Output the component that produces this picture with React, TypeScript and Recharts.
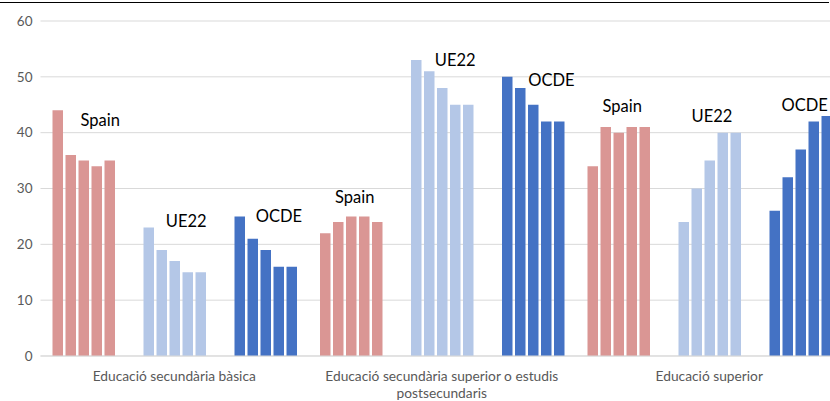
import { ComposedChart, CartesianGrid, XAxis, YAxis, Bar, Line, LabelList } from "recharts";

// three education levels, each with Spain / UE22 / OCDE, five bars per group
const categories = [
    "Educació secundària bàsica",
    "Educació secundària superior o estudis postsecundaris",
    "Educació superior",
];
const tickLines = [
    ["Educació secundària bàsica"],
    ["Educació secundària superior o estudis", "postsecundaris"],
    ["Educació superior"],
];
const groupNames = ["Spain", "UE22", "OCDE"];

const spain = [
    [44, 36, 35, 34, 35],
    [22, 24, 25, 25, 24],
    [34, 41, 40, 41, 41],
];
const ue22 = [
    [23, 19, 17, 15, 15],
    [53, 51, 48, 45, 45],
    [24, 30, 35, 40, 40],
];
const ocde = [
    [25, 21, 19, 16, 16],
    [50, 48, 45, 42, 42],
    [26, 32, 37, 42, 43],
];

// where the group names sit (value of the text baseline)
const spainLabelAt = [41.2, 27.4, 43.7];
const ueLabelAt = [23.1, 52.0, 41.9];
const ocdeLabelAt = [24.0, 48.4, 43.9];

const yTicks = [0, 10, 20, 30, 40, 50, 60];

// horizontal nudge of each name from the category centre
const spainDx = [-74, -87, -87];
const ueDx = [12, 13.5, 2.75];
const ocdeDx = [104.75, 109.75, 95.5];

const colSpain = "#da9694";
const colUe = "#b4c7e7";
const colOcde = "#4472c4";

const data = categories.map((cat, i) => {
    const row: any = { cat, spainLbl: spainLabelAt[i], ueLbl: ueLabelAt[i], ocdeLbl: ocdeLabelAt[i] };
    spain[i].forEach((v, j) => (row["s" + j] = v));
    ue22[i].forEach((v, j) => (row["u" + j] = v));
    ocde[i].forEach((v, j) => (row["o" + j] = v));
    return row;
});

const idx = [0, 1, 2, 3, 4];

const CatTick = (props: any) => {
    const { x, y, index } = props;
    const lines = tickLines[index] || [];
    return (
        <text x={x} y={y} textAnchor="middle" fill="#595959" fontSize={13.75}>
            {lines.map((l, k) => (
                <tspan key={k} x={x} dy={k === 0 ? 17 : 16.5}>
                    {l}
                </tspan>
            ))}
        </text>
    );
};

const nameLabel = (name: string, dx: number[]) => (props: any) => {
    const { x, y, index } = props;
    return (
        <text x={x + dx[index]} y={y} textAnchor="middle" fill="#000" fontSize={16.5}>
            {name}
        </text>
    );
};

const App = () => {
    const bars: any[] = [];
    idx.forEach(j => bars.push(<Bar key={"s" + j} dataKey={"s" + j} fill={colSpain} barSize={10.5} isAnimationActive={false} />));
    bars.push(<Bar key="g1" dataKey="gap1" fill="none" barSize={10.5} isAnimationActive={false} />);
    bars.push(<Bar key="g2" dataKey="gap2" fill="none" barSize={10.5} isAnimationActive={false} />);
    idx.forEach(j => bars.push(<Bar key={"u" + j} dataKey={"u" + j} fill={colUe} barSize={10.5} isAnimationActive={false} />));
    bars.push(<Bar key="g3" dataKey="gap3" fill="none" barSize={10.5} isAnimationActive={false} />);
    bars.push(<Bar key="g4" dataKey="gap4" fill="none" barSize={10.5} isAnimationActive={false} />);
    idx.forEach(j => bars.push(<Bar key={"o" + j} dataKey={"o" + j} fill={colOcde} barSize={10.5} isAnimationActive={false} />));

    return (
        <div style={{ position: "fixed", left: 0, top: 0, width: 830, height: 401, overflow: "hidden", background: "#fff", fontFamily: "Lato, sans-serif" }}>
            <ComposedChart width={850} height={401} data={data} barGap={2.5} margin={{ top: 21, right: 7, bottom: 0, left: 0 }}>
                <CartesianGrid vertical={false} stroke="#d9d9d9" />
                <XAxis dataKey="cat" axisLine={{ stroke: "#d9d9d9" }} tickLine={false} height={45} interval={0} tick={<CatTick />} />
                <YAxis width={40.5} domain={[0, 60]} ticks={yTicks} axisLine={false} tickLine={false}
                    tick={{ fill: "#595959", fontSize: 13.5 }} />
                {bars}
                <Line dataKey="spainLbl" stroke="none" dot={false} activeDot={false} isAnimationActive={false}>
                    <LabelList dataKey="spainLbl" content={nameLabel(groupNames[0], spainDx)} />
                </Line>
                <Line dataKey="ueLbl" stroke="none" dot={false} activeDot={false} isAnimationActive={false}>
                    <LabelList dataKey="ueLbl" content={nameLabel(groupNames[1], ueDx)} />
                </Line>
                <Line dataKey="ocdeLbl" stroke="none" dot={false} activeDot={false} isAnimationActive={false}>
                    <LabelList dataKey="ocdeLbl" content={nameLabel(groupNames[2], ocdeDx)} />
                </Line>
            </ComposedChart>
            <div style={{ position: "absolute", left: 0, top: 2, width: 829, height: 1, background: "#000" }} />
        </div>
    );
};

export default App;
